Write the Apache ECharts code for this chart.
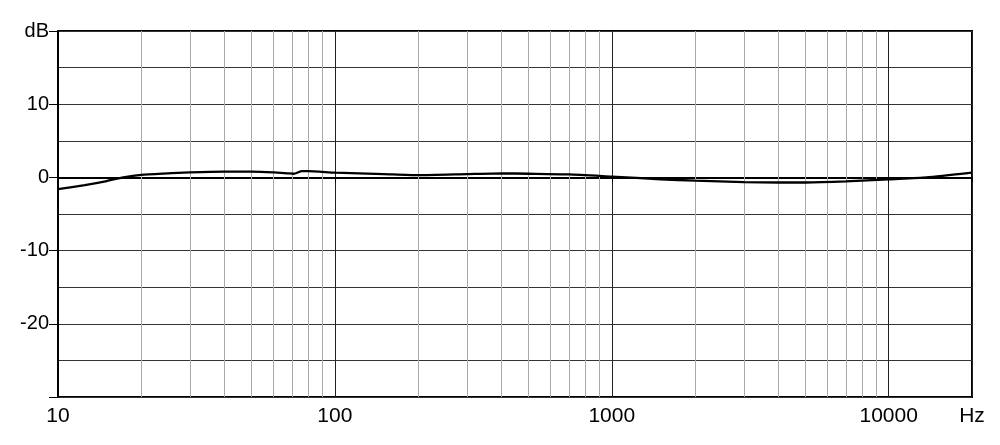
<!DOCTYPE html>
<html>
<head>
<meta charset="utf-8">
<script src="https://cdn.jsdelivr.net/npm/echarts@6/dist/echarts.min.js"></script>
<style>
  html, body { margin: 0; padding: 0; background: #fff; }
  #chart { width: 1000px; height: 445px; }
</style>
</head>
<body>
<div id="chart"></div>
<script>
// frequency response
const freqs = [10, 12.5, 15, 17.2, 20, 25, 30, 40, 50, 60, 68, 71, 76, 80, 100, 150, 200, 300, 400, 500, 700, 1000, 1500, 2000, 3000, 4000, 5000, 7000, 10000, 13700, 20000];
const levels = [-1.6, -1.05, -0.5, 0, 0.35, 0.55, 0.7, 0.8, 0.8, 0.7, 0.55, 0.5, 0.85, 0.85, 0.65, 0.45, 0.3, 0.45, 0.55, 0.5, 0.4, 0.1, -0.25, -0.45, -0.65, -0.7, -0.7, -0.55, -0.25, 0, 0.65];

// light grey lines between the decades
const minorFreqs = [20, 30, 40, 50, 60, 70, 80, 90, 200, 300, 400, 500, 600, 700, 800, 900, 2000, 3000, 4000, 5000, 6000, 7000, 8000, 9000];

const labelFont = "'Liberation Sans', Arial, sans-serif";

const chart = echarts.init(document.getElementById('chart'));

chart.setOption({
  animation: false,
  backgroundColor: '#fff',
  grid: {
    left: 58, right: 28, top: 31, bottom: 48,
    show: true, borderColor: '#000', borderWidth: 2
  },
  xAxis: {
    type: 'log',
    logBase: 10,
    min: 10,
    max: 20000,
    axisLine: { lineStyle: { color: '#000', width: 2 } },
    axisTick: { show: true, length: 5, lineStyle: { color: '#000' } },
    axisLabel: {
      color: '#000',
      fontFamily: labelFont,
      fontSize: 21,
      margin: 9,
      showMaxLabel: true,
      formatter: v => (v > 15000 ? 'Hz' : String(Math.round(v)))
    },
    splitLine: { show: true, lineStyle: { color: '#222', width: 1 } }
  },
  yAxis: {
    type: 'value',
    min: -30,
    max: 20,
    interval: 10,
    axisLine: { show: true, lineStyle: { color: '#000', width: 2 } },
    axisTick: { show: true, length: 9, lineStyle: { color: '#000' } },
    axisLabel: {
      color: '#000',
      fontFamily: labelFont,
      fontSize: 20,
      margin: 9,
      formatter: v => (v === 20 ? 'dB' : v === -30 ? '' : String(v))
    },
    splitLine: { show: true, lineStyle: { color: '#333', width: 1 } },
    minorTick: { show: false, splitNumber: 2 },
    minorSplitLine: { show: true, lineStyle: { color: '#333', width: 1 } }
  },
  series: [
    {
      type: 'line',
      data: [],
      silent: true,
      z: 1,
      markLine: {
        silent: true,
        symbol: 'none',
        label: { show: false },
        lineStyle: { color: '#aaa', width: 1, type: 'solid' },
        data: minorFreqs.map(f => ({ xAxis: f }))
      }
    },
    {
      type: 'line',
      z: 5,
      data: freqs.map((f, i) => [f, levels[i]]),
      showSymbol: false,
      smooth: 0.2,
      lineStyle: { color: '#000', width: 2.3 }
    }
  ]
});
</script>
</body>
</html>
